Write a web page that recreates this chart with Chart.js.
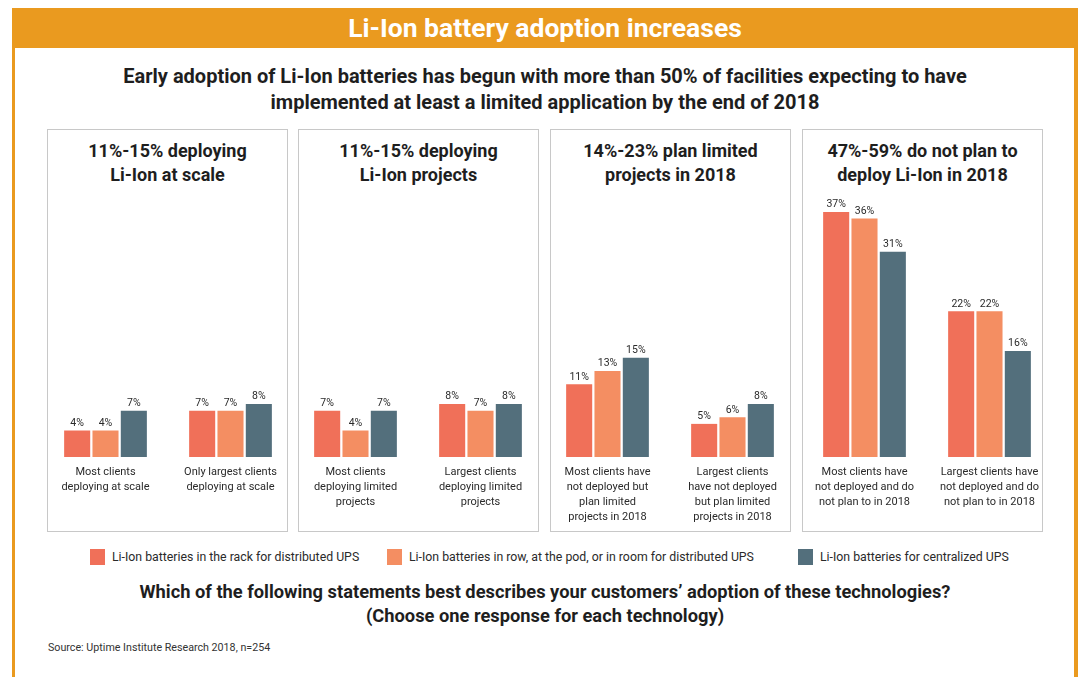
<!DOCTYPE html>
<html>
<head>
<meta charset="utf-8">
<script src="https://cdn.jsdelivr.net/npm/chart.js@4.4.1/dist/chart.umd.min.js"></script>
<style>
  html, body { margin:0; padding:0; background:#fff; }
  body { width:1079px; height:677px; position:relative; overflow:hidden; font-family:Roboto, "Noto Sans", sans-serif; color:#1e1e1e; }
  .abs { position:absolute; }
  .hdr { left:12px; top:8px; width:1066px; height:40px; background:#EA9A1F; color:#fff; font-weight:700; font-size:26.5px; line-height:40px; text-align:center; }
  .side { background:#EA9A1F; top:48px; height:629px; }
  .sub { left:12px; width:1066px; top:63px; text-align:center; font-weight:700; font-size:20px; line-height:26px; }
  .panel { top:129px; width:241px; height:403px; border:1.5px solid #c8c8c8; box-sizing:border-box; }
  .ptitle { top:139px; width:241px; text-align:center; font-weight:700; font-size:18px; line-height:24px; }
  .cwrap { top:185px; width:250px; height:345px; }
  .sq { top:549px; width:15px; height:16px; }
  .lt { top:549px; font-size:12.3px; line-height:16px; color:#2a2a2a; white-space:nowrap; }
  .q { left:12px; width:1066px; top:580px; text-align:center; font-weight:700; font-size:18.3px; line-height:23.5px; }
  .src { left:48px; top:641px; font-size:10.7px; color:#333; }
</style>
</head>
<body>
<div class="abs hdr">Li-Ion battery adoption increases</div>
<div class="abs side" style="left:12px;width:3px;"></div>
<div class="abs side" style="left:1074px;width:4px;"></div>
<div class="abs sub">Early adoption of Li-Ion batteries has begun with more than 50% of facilities expecting to have<br>implemented at least a limited application by the end of 2018</div>

<div class="abs panel" style="left:47px;"></div>
<div class="abs panel" style="left:298px;"></div>
<div class="abs panel" style="left:550px;"></div>
<div class="abs panel" style="left:802px;"></div>

<div class="abs ptitle" style="left:47px;">11%-15% deploying<br>Li-Ion at scale</div>
<div class="abs ptitle" style="left:298px;">11%-15% deploying<br>Li-Ion projects</div>
<div class="abs ptitle" style="left:550px;">14%-23% plan limited<br>projects in 2018</div>
<div class="abs ptitle" style="left:802px;">47%-59% do not plan to<br>deploy Li-Ion in 2018</div>

<div class="abs cwrap" style="left:43px;"><canvas id="c0" width="250" height="345"></canvas></div>
<div class="abs cwrap" style="left:292.5px;"><canvas id="c1" width="250" height="345"></canvas></div>
<div class="abs cwrap" style="left:544.5px;"><canvas id="c2" width="250" height="345"></canvas></div>
<div class="abs cwrap" style="left:802px;"><canvas id="c3" width="250" height="345"></canvas></div>

<div id="legend"></div>

<div class="abs q">Which of the following statements best describes your customers’ adoption of these technologies?<br>(Choose one response for each technology)</div>
<div class="abs src">Source: Uptime Institute Research 2018, n=254</div>

<script>
// ---- Data ----
const categories = [
  ["Most clients", "deploying at scale"],
  ["Only largest clients", "deploying at scale"],
  ["Most clients", "deploying limited", "projects"],
  ["Largest clients", "deploying limited", "projects"],
  ["Most clients have", "not deployed but", "plan limited", "projects in 2018"],
  ["Largest clients", "have not deployed", "but plan limited", "projects in 2018"],
  ["Most clients have", "not deployed and do", "not plan to in 2018"],
  ["Largest clients have", "not deployed and do", "not plan to in 2018"]
];
const seriesNames = [
  "Li-Ion batteries in the rack for distributed UPS",
  "Li-Ion batteries in row, at the pod, or in room for distributed UPS",
  "Li-Ion batteries for centralized UPS"
];
const rackValues    = [4, 7, 7, 8, 11, 5, 37, 22];
const rowValues     = [4, 7, 4, 7, 13, 6, 36, 22];
const centralValues = [7, 8, 7, 8, 15, 8, 31, 16];
const colors = ["#F07059", "#F48E62", "#536F7C"];
const yMax = 40;

// ---- Legend (HTML) ----
const legendPos = [90, 387, 798];
const lg = document.getElementById('legend');
seriesNames.forEach((n, i) => {
  const s = document.createElement('div');
  s.className = 'abs sq'; s.style.left = legendPos[i] + 'px'; s.style.background = colors[i];
  lg.appendChild(s);
  const t = document.createElement('div');
  t.className = 'abs lt'; t.style.left = (legendPos[i] + 22) + 'px'; t.textContent = n;
  lg.appendChild(t);
});

// ---- Value label plugin ----
const valueLabels = {
  id: 'valueLabels',
  afterDatasetsDraw(chart) {
    const ctx = chart.ctx;
    ctx.save();
    ctx.font = '10.5px Roboto, "Noto Sans", sans-serif';
    ctx.fillStyle = '#2a2a2a';
    ctx.textAlign = 'center';
    ctx.textBaseline = 'bottom';
    chart.data.datasets.forEach((ds, di) => {
      const meta = chart.getDatasetMeta(di);
      meta.data.forEach((el, i) => {
        ctx.fillText(ds.data[i] + '%', el.x, el.y - 2);
      });
    });
    ctx.restore();
  }
};

const allSeries = [rackValues, rowValues, centralValues];
for (let p = 0; p < 4; p++) {
  const idx = [2 * p, 2 * p + 1];
  new Chart(document.getElementById('c' + p), {
    type: 'bar',
    data: {
      labels: idx.map(i => categories[i]),
      datasets: allSeries.map((vals, si) => ({
        label: seriesNames[si],
        data: idx.map(i => vals[i]),
        backgroundColor: colors[si],
        borderWidth: 0,
        categoryPercentage: 0.68,
        barPercentage: 0.92
      }))
    },
    options: {
      responsive: false,
      animation: false,
      devicePixelRatio: 1,
      layout: { padding: { top: 7, left: 0, right: 0, bottom: 0 } },
      plugins: { legend: { display: false }, tooltip: { enabled: false } },
      scales: {
        x: {
          grid: { display: false, drawTicks: false },
          border: { display: false },
          ticks: {
            padding: 8,
            autoSkip: false, maxRotation: 0, minRotation: 0,
            color: '#2a2a2a',
            font: { family: 'Roboto, "Noto Sans", sans-serif', size: 11, lineHeight: 1.345 }
          },
          afterFit: (scale) => { scale.height = 73; }
        },
        y: { display: false, min: 0, max: yMax }
      }
    },
    plugins: [valueLabels]
  });
}
</script>
</body>
</html>
